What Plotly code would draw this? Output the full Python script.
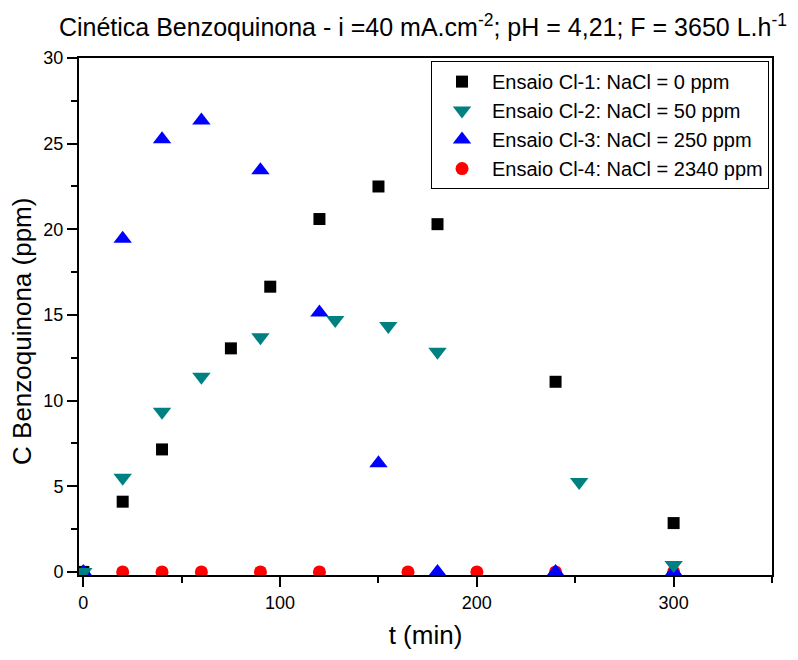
import plotly.graph_objects as go

# Sampling times (min) and benzoquinone concentrations (ppm) per assay
t_cl1 = [0, 20, 40, 75, 95, 120, 150, 180, 240, 300]
c_cl1 = [0, 4.1, 7.15, 13.05, 16.65, 20.6, 22.5, 20.3, 11.1, 2.85]

t_cl2 = [0, 20, 40, 60, 90, 128, 155, 180, 252, 300]
c_cl2 = [0, 5.5, 9.35, 11.4, 13.7, 14.7, 14.35, 12.85, 5.25, 0.4]

t_cl3 = [0, 20, 40, 60, 90, 120, 150, 180, 240, 300]
c_cl3 = [0, 19.45, 25.25, 26.35, 23.45, 15.15, 6.35, 0, 0, 0]

t_cl4 = [0, 20, 40, 60, 90, 120, 165, 200, 240, 300]
c_cl4 = [0, 0, 0, 0, 0, 0, 0, 0, 0, 0]

names = [
    "Ensaio Cl-1: NaCl = 0 ppm",
    "Ensaio Cl-2: NaCl = 50 ppm",
    "Ensaio Cl-3: NaCl = 250 ppm",
    "Ensaio Cl-4: NaCl = 2340 ppm",
]

x_ticks = [0, 100, 200, 300]
y_ticks = [0, 5, 10, 15, 20, 25, 30]

FONT = "Liberation Sans, Arial, sans-serif"

fig = go.Figure()

# drawn order: red circles at the bottom, teal triangles on top
fig.add_trace(go.Scatter(x=t_cl4, y=c_cl4, mode="markers", name=names[3], legendrank=4,
                         marker=dict(symbol="circle", size=13, color="#FF0000")))
fig.add_trace(go.Scatter(x=t_cl1, y=c_cl1, mode="markers", name=names[0], legendrank=1,
                         marker=dict(symbol="square", size=12, color="#000000")))
fig.add_trace(go.Scatter(x=t_cl3, y=c_cl3, mode="markers", name=names[2], legendrank=3,
                         marker=dict(symbol="triangle-up", size=16, color="#0000FF")))
fig.add_trace(go.Scatter(x=t_cl2, y=c_cl2, mode="markers", name=names[1], legendrank=2,
                         marker=dict(symbol="triangle-down", size=16, color="#008080")))

axis_common = dict(
    showgrid=False, zeroline=False, showline=True, linecolor="black", linewidth=2,
    mirror=True, ticks="outside", ticklen=10, tickwidth=2, tickcolor="black",
    tickfont=dict(family=FONT, size=18, color="black"),
)

fig.update_xaxes(
    range=[-2.2, 350], tickvals=x_ticks,
    minor=dict(tickvals=[50, 150, 250, 350], ticks="outside", ticklen=6, tickwidth=2, tickcolor="black"),
    title=dict(text="t (min)", font=dict(family=FONT, size=26, color="black"), standoff=14),
    **axis_common,
)
fig.update_yaxes(
    range=[-0.18, 30], tickvals=y_ticks,
    minor=dict(tickvals=[2.5, 7.5, 12.5, 17.5, 22.5, 27.5], ticks="outside", ticklen=6, tickwidth=2, tickcolor="black"),
    **axis_common,
)

# vertical axis title, sitting a little below the middle of the axis
fig.add_annotation(
    text="C Benzoquinona (ppm)", textangle=-90,
    xref="paper", yref="paper", x=-0.0823, y=0.472,
    xanchor="center", yanchor="middle", showarrow=False,
    font=dict(family=FONT, size=26, color="black"),
)

fig.update_layout(
    width=798, height=660,
    paper_bgcolor="white", plot_bgcolor="white",
    margin=dict(l=79, r=26, t=58, b=85),
    title=dict(
        text="Cinética Benzoquinona - i =40 mA.cm<sup>-2</sup>; pH = 4,21; F = 3650 L.h<sup>-1</sup>",
        font=dict(family=FONT, size=25, color="black"),
        x=0.53, xanchor="center", y=0.958, yanchor="middle",
    ),
    legend=dict(
        x=0.9957, xanchor="right", y=0.994, yanchor="top",
        bgcolor="white", bordercolor="black", borderwidth=1,
        font=dict(family=FONT, size=20, color="black"),
        tracegroupgap=0, itemsizing="trace", itemwidth=50,
    ),
    showlegend=True,
)

fig.write_html("out.html")
